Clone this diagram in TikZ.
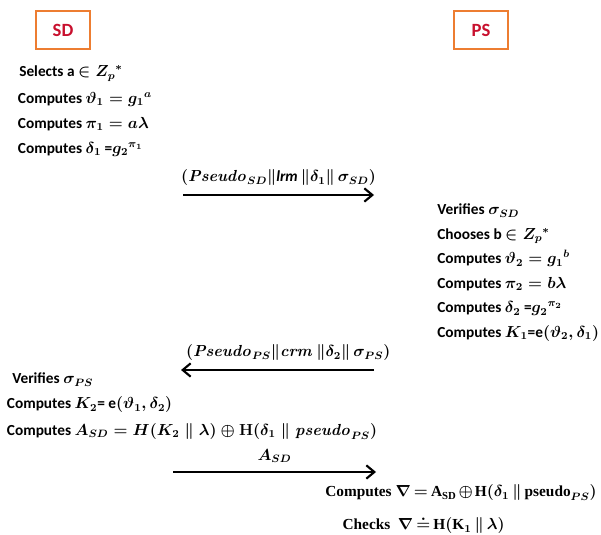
\documentclass[tikz,border=0pt]{standalone}
\usepackage{amsmath,amssymb}
\usepackage[no-math]{fontspec}
\setmainfont{Carlito}
\newfontfamily\cambriaish{Liberation Serif}
\usepackage{xcolor}
\usepackage{tikz}
\usetikzlibrary{arrows.meta,positioning}
\definecolor{boxorange}{RGB}{237,125,49}
\definecolor{partyred}{RGB}{200,16,46}
\newcommand{\tightmath}{\thickmuskip=3mu plus 1mu\medmuskip=2mu plus 1mu}

\begin{document}
\begin{tikzpicture}[
  x=0.75pt, y=-0.75pt,
  party/.style={rectangle, draw=boxorange, line width=1.6pt, minimum width=40pt,
                minimum height=29pt, text=partyred,
                font=\fontsize{14}{16}\selectfont\bfseries},
  op/.style={anchor=west, inner sep=0pt, text height=9pt, text depth=3.5pt,
             font=\fontsize{11.5}{14}\selectfont\bfseries\boldmath},
  opserif/.style={op, font=\fontsize{11.5}{13}\selectfont\cambriaish\bfseries\boldmath\tightmath},
  msg/.style={-{Straight Barb[length=6pt, width=10pt, line width=1.6pt]}, line width=1.7pt},
  msglabel/.style={above=6pt, inner sep=0pt,
                   font=\fontsize{11.5}{14}\selectfont\bfseries\boldmath\tightmath},
]
  \useasboundingbox (0,0) rectangle (601,535);

  % Parties
  \node[party] (sd) at (63,30) {SD};
  \node[party] (ps) at (481,30) {PS};

  % SD: setup
  \node[op] (sd1) at (19,73) {Selects a $\in Z_p{}^{*}$};
  \node[op, below=7pt of sd1.south west, anchor=north west, xshift=-1pt] (sd2)
    {Computes $\vartheta_1 = {g_1}^{a}$};
  \node[op, below=6pt of sd2.south west, anchor=north west] (sd3)
    {Computes $\pi_1 = a\lambda$};
  \node[op, below=6pt of sd3.south west, anchor=north west] (sd4)
    {Computes $\delta_1$ =${g_2}^{\pi_1}$};

  % Message 1: SD -> PS
  \coordinate (m1a) at (183,195);
  \coordinate (m1b) at (374,195);
  \draw[msg] (m1a) -- (m1b)
    node[msglabel, midway] (m1) {$(\mathit{Pseudo}_{SD}\|$\textit{lrm}$\,\|\delta_1\|\,\sigma_{SD})$};

  % PS: verify and answer
  \node[op] (ps1) at (437,211) {Verifies $\sigma_{SD}$};
  \node[op, below=5.5pt of ps1.south west, anchor=north west] (ps2)
    {Chooses b $\in Z_p{}^{*}$};
  \node[op, below=5.5pt of ps2.south west, anchor=north west] (ps3)
    {Computes $\vartheta_2 = {g_1}^{b}$};
  \node[op, below=5.5pt of ps3.south west, anchor=north west] (ps4)
    {Computes $\pi_2 = b\lambda$};
  \node[op, below=5.5pt of ps4.south west, anchor=north west] (ps5)
    {Computes $\delta_2$ =${g_2}^{\pi_2}$};
  \node[op, below=5.5pt of ps5.south west, anchor=north west] (ps6)
    {Computes $K_1$=e$(\vartheta_2{,}\,\delta_1)$};

  % Message 2: PS -> SD
  \coordinate (m2a) at (374,370);
  \coordinate (m2b) at (181,370);
  \draw[msg] (m2a) -- (m2b)
    node[msglabel, midway, xshift=8pt] (m2) {$(\mathit{Pseudo}_{PS}\|\mathit{crm}\,\|\delta_2\|\,\sigma_{PS})$};

  % SD: verify and authenticator
  \node[op] (sd5) at (12,380) {Verifies $\sigma_{PS}$};
  \node[op, below=6pt of sd5.south west, anchor=north west, xshift=-4pt] (sd6)
    {Computes $K_2$= e$(\vartheta_1,\delta_2)$};
  \node[op, below=7pt of sd6.south west, anchor=north west] (sd7)
    {Computes $A_{SD} = H(K_2 \parallel \lambda) \oplus \mathrm{H}(\delta_1 \parallel \mathit{pseudo}_{PS})$};

  % Message 3: SD -> PS
  \coordinate (m3a) at (173,472);
  \coordinate (m3b) at (376,472);
  \draw[msg] (m3a) -- (m3b) node[msglabel, midway] (m3) {$A_{SD}$};

  % PS: check
  \node[opserif] (ps7) at (325,493)
    {Computes $\nabla = \text{A}_{\text{SD}} \oplus \text{H}(\delta_1 \parallel \text{pseudo}_{PS})$};
  \node[opserif, below=12pt of ps7.south west, anchor=north west, xshift=13pt] (ps8)
    {Checks~ $\nabla \doteq \text{H}(\text{K}_1 \parallel \lambda)$};
\end{tikzpicture}
\end{document}
